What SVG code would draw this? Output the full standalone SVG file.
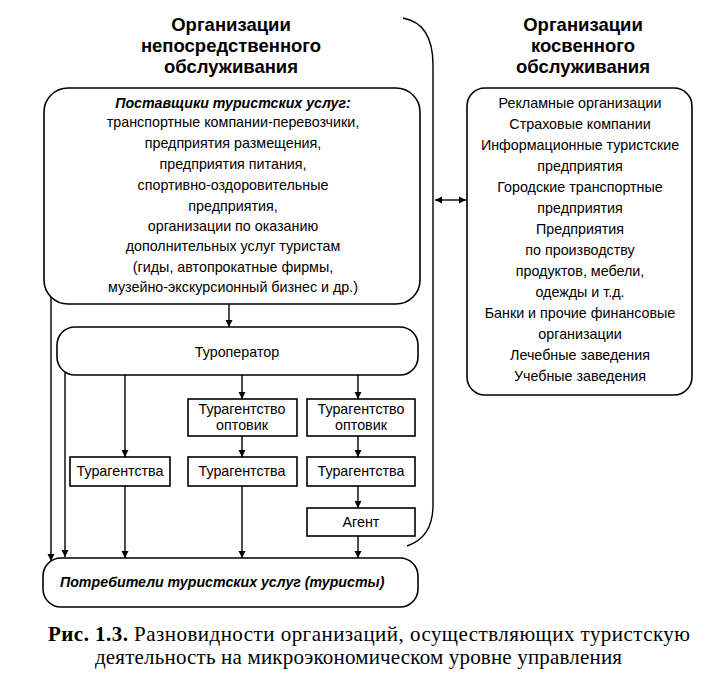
<svg xmlns="http://www.w3.org/2000/svg" width="706" height="684" viewBox="0 0 706 684">
<defs>
<marker id="ah" viewBox="0 0 10 10" refX="10" refY="5" markerWidth="7" markerHeight="8" markerUnits="userSpaceOnUse" orient="auto-start-reverse">
<path d="M0,0 L10,5 L0,10 z" fill="#000"/>
</marker>
<style>
.box{fill:#fff;stroke:#000;stroke-width:1.6}
.ln{fill:none;stroke:#000;stroke-width:1.4}
.hd{font-family:"Liberation Sans",Arial,sans-serif;font-weight:bold;font-size:18.5px;text-anchor:middle}
.t{font-family:"Liberation Sans",Arial,sans-serif;font-size:14.3px;text-anchor:middle}
.bi{font-family:"Liberation Sans",Arial,sans-serif;font-size:14.2px;font-weight:bold;font-style:italic}
.cap{font-family:"Liberation Serif","Times New Roman",serif;font-size:21px}
</style>
</defs>
<rect width="706" height="684" fill="#fff"/>
<g id="hdr-left">
<text class="hd" x="231" y="31">Организации</text>
<text class="hd" x="231" y="52">непосредственного</text>
<text class="hd" x="231" y="73">обслуживания</text>
</g>
<g id="hdr-right">
<text class="hd" x="583" y="31">Организации</text>
<text class="hd" x="583" y="52">косвенного</text>
<text class="hd" x="583" y="73">обслуживания</text>
</g>
<g id="connectors">
<path class="ln" d="M403,18 C425,22 433,40 433,65 L433,505 C433,525 425,540 407,546"/>
<line class="ln" x1="435" y1="200" x2="466" y2="200" marker-start="url(#ah)" marker-end="url(#ah)"/>
<line class="ln" x1="229" y1="303" x2="229" y2="327" marker-end="url(#ah)"/>
<line class="ln" x1="51" y1="285" x2="51" y2="561" marker-end="url(#ah)"/>
<line class="ln" x1="65" y1="362" x2="65" y2="557" marker-end="url(#ah)"/>
<line class="ln" x1="125" y1="375" x2="125" y2="457" marker-end="url(#ah)"/>
<line class="ln" x1="125" y1="486" x2="125" y2="558" marker-end="url(#ah)"/>
<line class="ln" x1="242" y1="375" x2="242" y2="399" marker-end="url(#ah)"/>
<line class="ln" x1="242" y1="436" x2="242" y2="457" marker-end="url(#ah)"/>
<line class="ln" x1="242" y1="486" x2="242" y2="558" marker-end="url(#ah)"/>
<line class="ln" x1="358" y1="375" x2="358" y2="399" marker-end="url(#ah)"/>
<line class="ln" x1="358" y1="436" x2="358" y2="457" marker-end="url(#ah)"/>
<line class="ln" x1="358" y1="486" x2="358" y2="508" marker-end="url(#ah)"/>
<line class="ln" x1="358" y1="536" x2="358" y2="558" marker-end="url(#ah)"/>
</g>
<g id="suppliers">
<rect class="box" x="44" y="88" width="376" height="216" rx="24"/>
<text class="bi" x="233" y="108" text-anchor="middle">Поставщики туристских услуг:</text>
<text class="t" x="233" y="127">транспортные компании-перевозчики,</text>
<text class="t" x="233" y="148">предприятия размещения,</text>
<text class="t" x="233" y="169">предприятия питания,</text>
<text class="t" x="233" y="190">спортивно-оздоровительные</text>
<text class="t" x="233" y="211">предприятия,</text>
<text class="t" x="233" y="231">организации по оказанию</text>
<text class="t" x="233" y="251">дополнительных услуг туристам</text>
<text class="t" x="233" y="272">(гиды, автопрокатные фирмы,</text>
<text class="t" x="233" y="292">музейно-экскурсионный бизнес и др.)</text>
</g>
<g id="indirect">
<rect class="box" x="467" y="88" width="225" height="307" rx="18"/>
<text class="t" x="580" y="108">Рекламные организации</text>
<text class="t" x="580" y="129">Страховые компании</text>
<text class="t" x="580" y="150">Информационные туристские</text>
<text class="t" x="580" y="171">предприятия</text>
<text class="t" x="580" y="192">Городские транспортные</text>
<text class="t" x="580" y="213">предприятия</text>
<text class="t" x="580" y="234">Предприятия</text>
<text class="t" x="580" y="255">по производству</text>
<text class="t" x="580" y="276">продуктов, мебели,</text>
<text class="t" x="580" y="297">одежды и т.д.</text>
<text class="t" x="580" y="318">Банки и прочие финансовые</text>
<text class="t" x="580" y="339">организации</text>
<text class="t" x="580" y="360">Лечебные заведения</text>
<text class="t" x="580" y="381">Учебные заведения</text>
</g>
<g id="touroperator">
<rect class="box" x="57" y="327" width="361" height="48" rx="18"/>
<text class="t" x="237" y="357">Туроператор</text>
</g>
<g id="wholesale1">
<rect class="box" x="188" y="399" width="109" height="37"/>
<text class="t" x="242" y="414">Турагентство</text>
<text class="t" x="242" y="430">оптовик</text>
</g>
<g id="wholesale2">
<rect class="box" x="307" y="399" width="108" height="37"/>
<text class="t" x="361" y="414">Турагентство</text>
<text class="t" x="361" y="430">оптовик</text>
</g>
<g id="agency1">
<rect class="box" x="70" y="457" width="100" height="29"/>
<text class="t" x="120" y="476">Турагентства</text>
</g>
<g id="agency2">
<rect class="box" x="188" y="457" width="109" height="29"/>
<text class="t" x="242" y="476">Турагентства</text>
</g>
<g id="agency3">
<rect class="box" x="307" y="457" width="108" height="29"/>
<text class="t" x="361" y="476">Турагентства</text>
</g>
<g id="agent">
<rect class="box" x="307" y="508" width="108" height="28"/>
<text class="t" x="361" y="527">Агент</text>
</g>
<g id="consumers">
<rect class="box" x="43" y="558" width="375" height="49" rx="18"/>
<text class="bi" x="60" y="587">Потребители туристских услуг (туристы)</text>
</g>
<g id="caption">
<text class="cap" x="48" y="641" textLength="642" lengthAdjust="spacing"><tspan font-weight="bold">Рис. 1.3.</tspan> Разновидности организаций, осуществляющих туристскую</text>
<text class="cap" x="95" y="664" textLength="527" lengthAdjust="spacing">деятельность на микроэкономическом уровне управления</text>
</g>
</svg>
